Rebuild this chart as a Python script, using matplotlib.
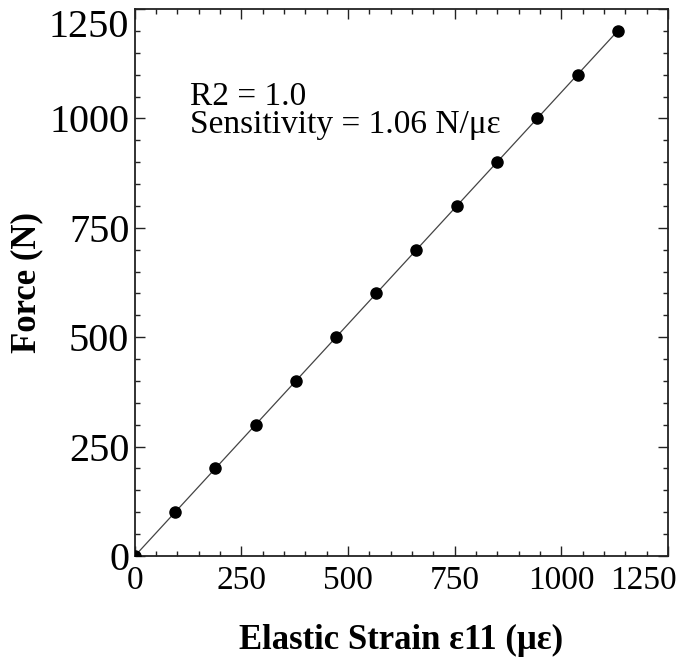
import numpy as np
import matplotlib
matplotlib.use('Agg')
import matplotlib.pyplot as plt
from matplotlib.ticker import MultipleLocator
from matplotlib.transforms import ScaledTranslation

# values
strain = [0, 94, 189, 283, 377, 472, 566, 660, 755, 849, 943, 1038, 1132]
force = [0, 100, 200, 300, 400, 500, 600, 700, 800, 900, 1000, 1100, 1200]
major_ticks = [0, 250, 500, 750, 1000, 1250]

plt.rcParams['font.family'] = ['Liberation Serif', 'DejaVu Serif']

fig = plt.figure(figsize=(6.81, 6.57), dpi=100)
ax = fig.add_axes([0.198, 0.1537, 0.783, 0.8326])

# linear fit through the data
slope, intercept = np.polyfit(strain, force, 1)
x_fit = np.array([0, max(strain)])
ax.plot(x_fit, slope * x_fit + intercept, color='#444444', lw=0.9, zorder=2)
ax.plot(strain, force, 'o', color='black', ms=8, zorder=3)

ax.set_xlim(0, 1250)
ax.set_ylim(0, 1250)
ax.set_xticks(major_ticks)
ax.set_yticks(major_ticks)
ax.xaxis.set_minor_locator(MultipleLocator(50))
ax.yaxis.set_minor_locator(MultipleLocator(50))
ax.tick_params(which='both', direction='in', top=True, right=True, width=1.0, color='#222222')
ax.tick_params(which='major', length=7)
ax.tick_params(which='minor', length=3.5)
ax.tick_params(axis='x', labelsize=24, pad=7)
ax.tick_params(axis='y', labelsize=29, pad=4)
for sp in ax.spines.values():
    sp.set_linewidth(1.3)
    sp.set_color('#222222')

# keep end labels inside the figure
last_x = ax.get_xticklabels()[-1]
last_x.set_transform(last_x.get_transform() + ScaledTranslation(-0.25, 0, fig.dpi_scale_trans))
ax.get_yticklabels()[-1].set_verticalalignment('top')

ax.set_xlabel('Elastic Strain ε11 (με)', fontsize=25, fontweight='bold')
ax.xaxis.set_label_coords(0.5, -0.125)
ax.set_ylabel('Force (N)', fontsize=25, fontweight='bold')
ax.yaxis.set_label_coords(-0.172, 0.5)

ax.text(0.103, 0.868, 'R2 = 1.0\nSensitivity = 1.06 N/με', transform=ax.transAxes,
        fontsize=24, va='top', ha='left', linespacing=0.92)

fig.savefig('out.png', dpi=100)
